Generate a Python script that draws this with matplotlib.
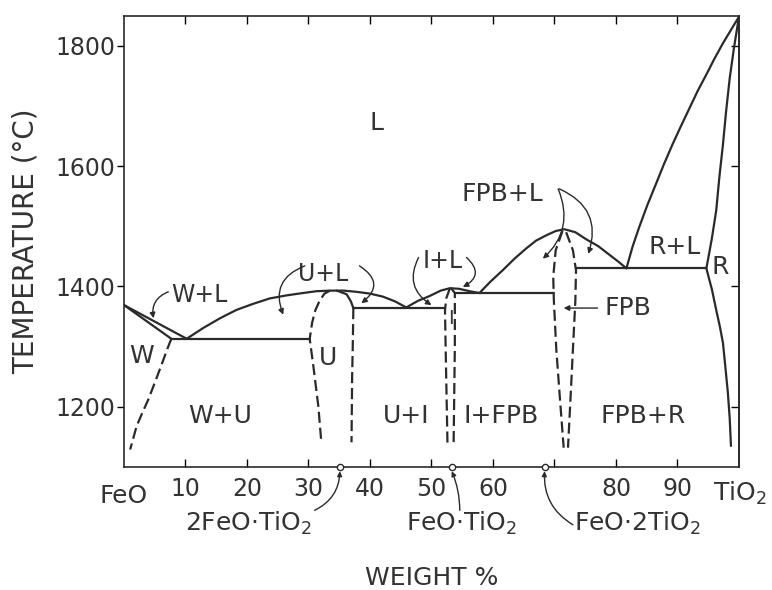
import matplotlib
matplotlib.use("Agg")
import matplotlib.pyplot as plt
import numpy as np

plt.rcParams['font.family'] = ['DejaVu Sans']
plt.rcParams['mathtext.fontset'] = 'dejavusans'

# phase boundaries, (wt% TiO2, temperature C)
liq_w = [(0, 1369), (10.2, 1313)]
sol_w = [(0, 1369), (7.7, 1313)]
solvus_w = [(7.7, 1313), (7.0, 1295), (6.4, 1278), (5.2, 1245), (3.95, 1212),
            (2.9, 1188), (2.06, 1168), (1.0, 1129)]
eut_wu = [(7.7, 1313), (30.2, 1313)]
liq_u = [(10.2, 1313), (12.9, 1331), (15.6, 1347), (18.3, 1361), (21.0, 1371),
         (23.7, 1380), (26.4, 1385), (29.1, 1389), (31.3, 1392), (33.5, 1393),
         (35.7, 1393), (37.8, 1391), (40.0, 1388), (42.1, 1383), (44.1, 1375), (45.9, 1365)]
u_left = [(33.5, 1393), (32.6, 1388), (31.8, 1376), (31.1, 1360), (30.6, 1340),
          (30.2, 1313), (30.5, 1290), (30.8, 1267), (31.2, 1234), (31.6, 1201),
          (32.1, 1140)]
u_top_right = [(34.6, 1393), (36.2, 1387), (36.9, 1375), (37.3, 1364)]
u_right = [(37.3, 1364), (37.2, 1300), (37.1, 1251), (37.0, 1141)]
eut_ui = [(37.3, 1364), (52.2, 1364)]
liq_i = [(45.9, 1365), (47.8, 1376), (49.7, 1384), (51.5, 1393), (53.0, 1397),
         (54.5, 1396), (56.2, 1392), (57.8, 1389)]
i_left = [(53.0, 1397), (52.4, 1380), (52.2, 1360), (52.3, 1300), (52.6, 1140)]
i_right = [(53.2, 1397), (53.8, 1389), (53.8, 1300), (53.6, 1140)]
eut_ifpb = [(53.8, 1389), (69.9, 1389)]
liq_fpb = [(57.8, 1389), (59.6, 1408), (61.6, 1427), (63.5, 1446), (65.4, 1463),
           (67.0, 1476), (68.7, 1485), (70.2, 1492), (71.6, 1495), (73.4, 1490),
           (75.2, 1478), (77.1, 1467), (79.0, 1452), (80.4, 1441), (81.7, 1430)]
fpb_left = [(71.3, 1492), (70.2, 1460), (69.8, 1416), (69.9, 1377), (70.3, 1295),
            (70.9, 1212), (71.5, 1132)]
fpb_right = [(71.9, 1490), (73.0, 1460), (73.5, 1427), (73.4, 1377), (73.0, 1295),
             (72.6, 1212), (72.2, 1132)]
eut_fpbr = [(73.5, 1430), (94.7, 1430)]
liq_r = [(81.7, 1430), (82.7, 1466), (83.8, 1499), (85.1, 1535), (86.5, 1570),
         (87.8, 1603), (89.2, 1636), (90.6, 1667), (92.0, 1697), (93.3, 1725),
         (94.7, 1752), (96.0, 1778), (97.4, 1804), (98.7, 1826), (100, 1848)]
sol_r = [(100, 1848), (99.2, 1797), (98.5, 1746), (97.9, 1690), (97.4, 1636),
         (96.8, 1580), (96.3, 1526), (95.6, 1480), (95.1, 1452), (94.7, 1430)]
solvus_r = [(94.7, 1430), (95.6, 1395), (96.3, 1361), (96.9, 1333), (97.4, 1306),
            (97.8, 1265), (98.2, 1223), (98.5, 1180), (98.7, 1135)]

solid_lines = [liq_w, sol_w, eut_wu, liq_u, u_top_right, eut_ui, liq_i, eut_ifpb,
               liq_fpb, eut_fpbr, liq_r, sol_r, solvus_r]
dashed_lines = [solvus_w, u_left, u_right, i_left, i_right, fpb_left, fpb_right]

# region labels
region_labels = ['L', 'W+L', 'W', 'W+U', 'U', 'U+L', 'U+I', 'I', 'I+L', 'I+FPB',
                 'FPB+L', 'FPB', 'FPB+R', 'R+L', 'R']
region_xy = [(41, 1672), (12.2, 1386), (2.9, 1284), (15.6, 1184), (33.2, 1281),
             (32.4, 1421), (45.9, 1184), (53.1, 1347), (51.9, 1443), (61.3, 1184),
             (61.6, 1554), (82.0, 1364), (84.4, 1184), (89.5, 1465), (96.9, 1432)]
region_size = [18, 17, 18, 18, 18, 17, 18, 14, 17, 18, 18, 18, 18, 18, 18]

# curved pointers: (start, end, curvature)
pointers = [((7.2, 1391), (4.8, 1347), 0.4),
            ((29.4, 1434), (25.9, 1353), 0.5),
            ((38.3, 1434), (38.6, 1372), -0.7),
            ((47.9, 1448), (50.0, 1369), 0.45),
            ((55.7, 1448), (55.1, 1399), -0.7),
            ((70.6, 1562), (68.1, 1446), -0.35),
            ((70.8, 1562), (75.5, 1454), -0.45),
            ((77.0, 1364), (71.5, 1364), 0.0)]

# compounds on the composition axis
compounds = ['2FeO·TiO$_2$', 'FeO·TiO$_2$', 'FeO·2TiO$_2$']
compound_x = [35.1, 53.3, 68.4]
compound_label_x = [20.2, 54.9, 83.5]
compound_arrows = [((31.0, 1028), 0.3), ((54.6, 1028), 0.1), ((73.0, 1004), -0.3)]

x_ticks = [10, 20, 30, 40, 50, 60, 70, 80, 90]
x_tick_labels = ['10', '20', '30', '40', '50', '60', '', '80', '90']
y_ticks = [1200, 1400, 1600, 1800]

fig = plt.figure(figsize=(7.72, 5.90), dpi=100)
ax = fig.add_axes([0.1606, 0.2085, 0.7966, 0.7652])
ax.set_xlim(0, 100)
ax.set_ylim(1100, 1850)

for seg in solid_lines:
    seg = np.array(seg)
    ax.plot(seg[:, 0], seg[:, 1], color='#2a2a2a', lw=1.6, solid_capstyle='round',
            solid_joinstyle='round')
for seg in dashed_lines:
    seg = np.array(seg)
    ax.plot(seg[:, 0], seg[:, 1], color='#2a2a2a', lw=1.6, linestyle=(0, (5, 2.2)))

for txt, (x, y), fs in zip(region_labels, region_xy, region_size):
    ax.text(x, y, txt, fontsize=fs, ha='center', va='center', color='#333333')

for start, end, rad in pointers:
    ax.annotate('', xy=end, xytext=start,
                arrowprops=dict(arrowstyle='-|>', color='#2a2a2a', lw=1.0,
                                mutation_scale=8, shrinkA=0, shrinkB=0,
                                connectionstyle='arc3,rad=%s' % rad))

ax.plot(compound_x, [1100] * 3, 'o', ms=4.5, mfc='white', mec='#2a2a2a', mew=1.0,
        clip_on=False, zorder=5)
for name, cx, lx, (start, rad) in zip(compounds, compound_x, compound_label_x, compound_arrows):
    ax.text(lx, 1007, name, fontsize=18, ha='center', va='center', color='#333333')
    ax.annotate('', xy=(cx, 1093), xytext=start, annotation_clip=False,
                arrowprops=dict(arrowstyle='-|>', color='#2a2a2a', lw=1.0,
                                mutation_scale=7, shrinkA=0, shrinkB=0,
                                connectionstyle='arc3,rad=%s' % rad))

ax.text(0, 1052, 'FeO', fontsize=18, ha='center', va='center', color='#333333')
ax.text(100.2, 1056, 'TiO$_2$', fontsize=18, ha='center', va='center', color='#333333')

ax.set_xticks(x_ticks)
ax.set_xticklabels(x_tick_labels)
ax.set_yticks(y_ticks)
ax.tick_params(axis='x', direction='in', length=6, width=1.0, top=True, pad=7,
               labelsize=17, labelcolor='#333333')
ax.tick_params(axis='y', direction='out', length=5, width=1.0, pad=1.5,
               labelsize=17, labelcolor='#333333')
right = ax.secondary_yaxis('right')
right.set_yticks(y_ticks)
right.tick_params(direction='in', length=6, width=1.0, labelright=False)
for sp in list(ax.spines.values()) + [right.spines['right']]:
    sp.set_linewidth(1.2)
    sp.set_color('#2a2a2a')

ax.set_ylabel('TEMPERATURE (°C)', fontsize=20, color='#333333', labelpad=11)
fig.text(432 / 772, 1 - 578 / 590, 'WEIGHT %', fontsize=18, ha='center', va='center',
         color='#333333')

fig.savefig('out.png', dpi=100)
